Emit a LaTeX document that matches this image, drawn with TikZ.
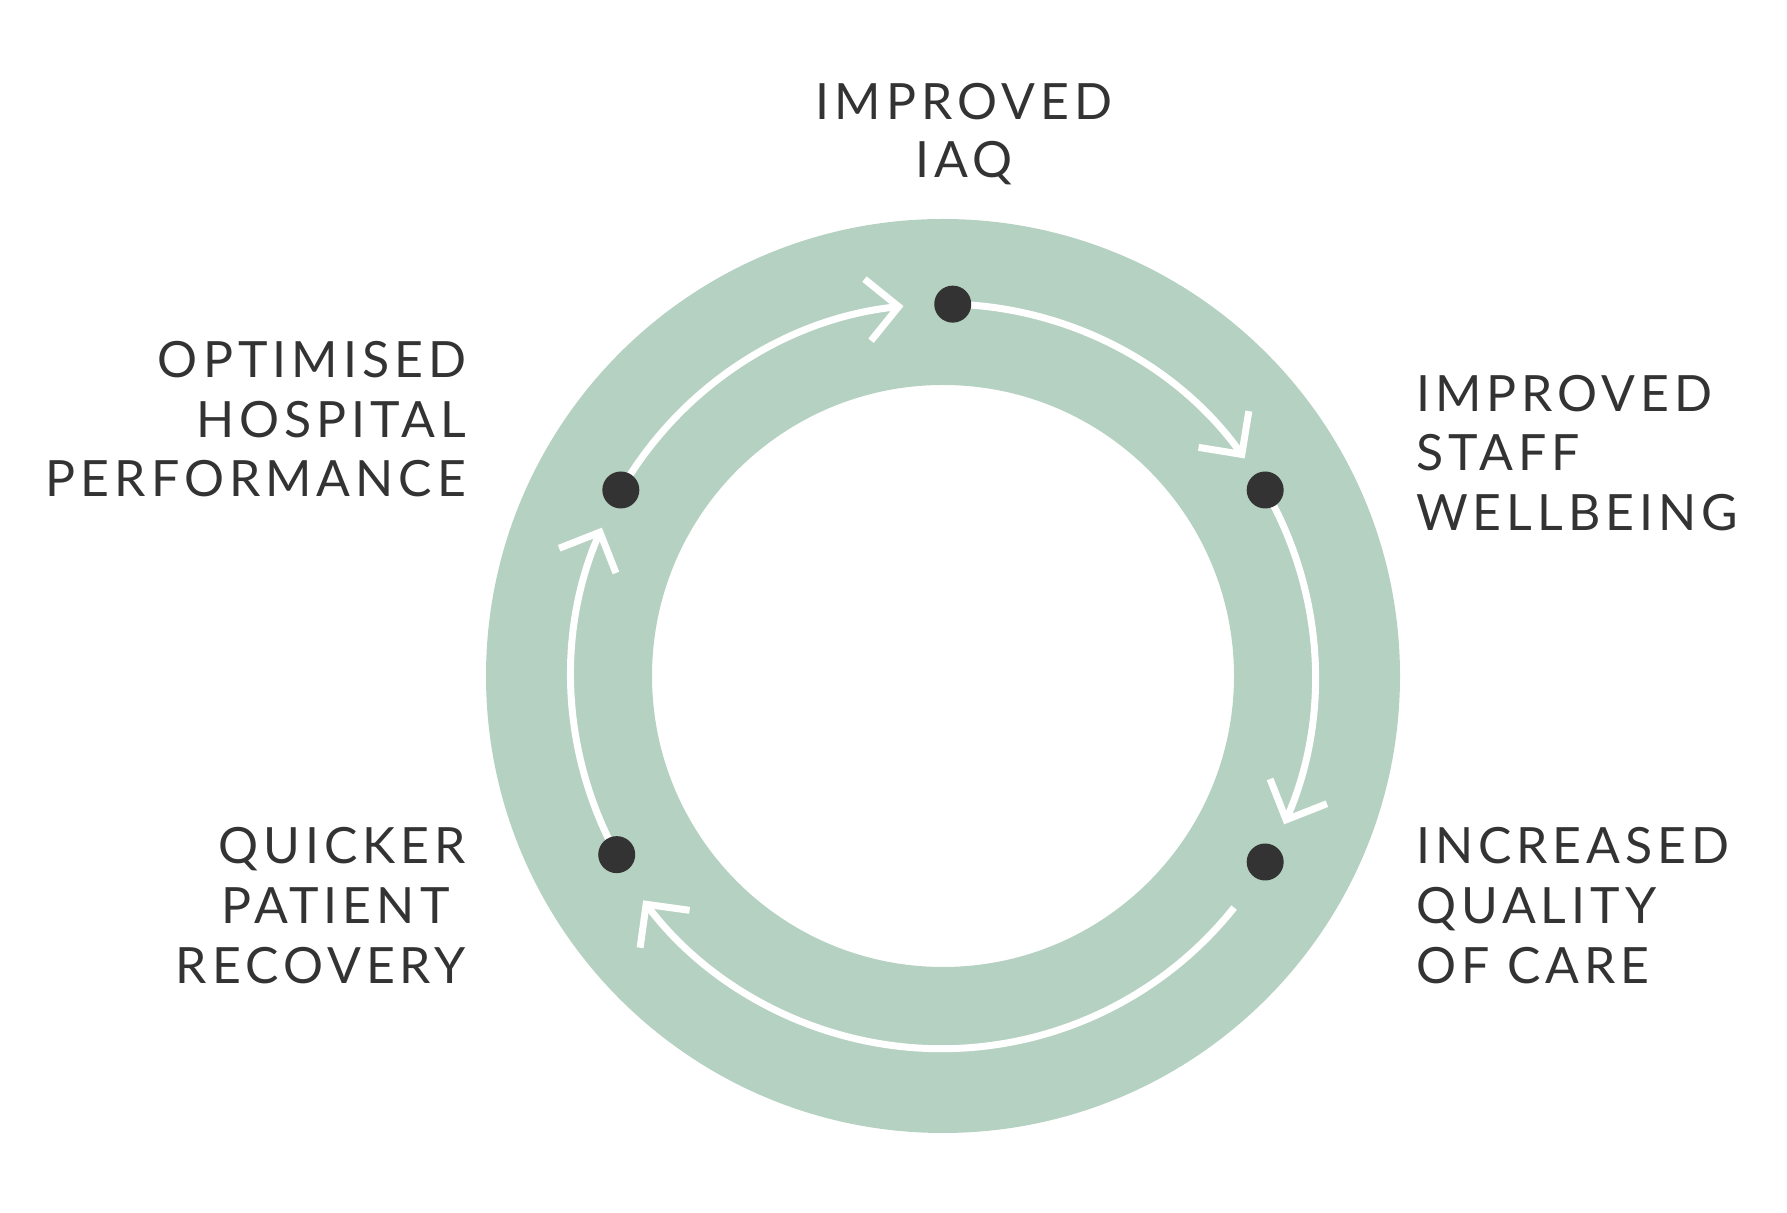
\documentclass[tikz,border=0pt]{standalone}
\usepackage{fontspec}
\setmainfont{Lato}
\newfontfamily\lato[LetterSpace=10]{Lato}
\usetikzlibrary{arrows.meta}
\definecolor{ringgreen}{RGB}{181,209,194}
\definecolor{ink}{RGB}{51,51,51}
\begin{document}
\begin{tikzpicture}[x=1pt,y=1pt,
  lbl/.style={inner sep=0pt, outer sep=0pt, font=\lato\fontsize{50}{60}\selectfont, text=ink},
  lblR/.style={lbl, anchor=base east},
  lblL/.style={lbl, anchor=base west},
  lblC/.style={lbl, anchor=base},
  dotn/.style={circle, fill=ink, minimum size=37pt, inner sep=0pt},
  flow/.style={draw=white, line width=7pt, -{Straight Barb[length=31pt,width=62pt]}}]
\useasboundingbox (0,0) rectangle (1787,1212);
\coordinate (c) at (943,536);
\fill[ringgreen, even odd rule] (c) circle[radius=457pt] (c) circle[radius=291pt];
% dot positions
\coordinate (p1) at ([shift={(88.5:372pt)}]c);
\coordinate (p2) at ([shift={(30:372pt)}]c);
\coordinate (p3) at ([shift={(-30:372pt)}]c);
\coordinate (p4) at ([shift={(208.7:372pt)}]c);
\coordinate (p5) at ([shift={(150:372pt)}]c);
\coordinate (s3) at ([shift={(-38.5:372pt)}]c);
% flow arcs
\draw[flow] (p1) arc[start angle=88.5, end angle=35.8, radius=372pt];
\draw[flow] (p2) arc[start angle=30, end angle=-23.5, radius=372pt];
\draw[flow] (s3) arc[start angle=-38.5, end angle=-142.9, radius=374pt];
\draw[flow] (p4) arc[start angle=208.7, end angle=156.5, radius=372pt];
\draw[flow] (p5) arc[start angle=150, end angle=96.1, radius=372pt];
% dots
\node[dotn] (d1) at (p1) {};
\node[dotn] (d2) at (p2) {};
\node[dotn] (d3) at (p3) {};
\node[dotn] (d4) at (p4) {};
\node[dotn] (d5) at (p5) {};
% labels
\node[lblC] (t1a) at (964,1092) {IMPROVED};
\node[lblC] (t1b) at (964,1034) {IAQ};
\node[lblL] (t2a) at (1416,800.3) {IMPROVED};
\node[lblL] (t2b) at (1416,741.3) {STAFF};
\node[lblL] (t2c) at (1416,681.3) {WELLBEING};
\node[lblL] (t3a) at (1416,348.5) {INCREASED};
\node[lblL] (t3b) at (1416,288.5) {QUALITY};
\node[lblL] (t3c) at (1416,228.5) {OF CARE};
\node[lblR] (t4a) at (466,348.5) {QUICKER};
\node[lblR] (t4b) at (449.5,288.5) {PATIENT};
\node[lblR] (t4c) at (466,228.5) {RECOVERY};
\node[lblR] (t5a) at (466,834.7) {OPTIMISED};
\node[lblR] (t5b) at (466,774.7) {HOSPITAL};
\node[lblR] (t5c) at (466,715.3) {PERFORMANCE};
\end{tikzpicture}
\end{document}
